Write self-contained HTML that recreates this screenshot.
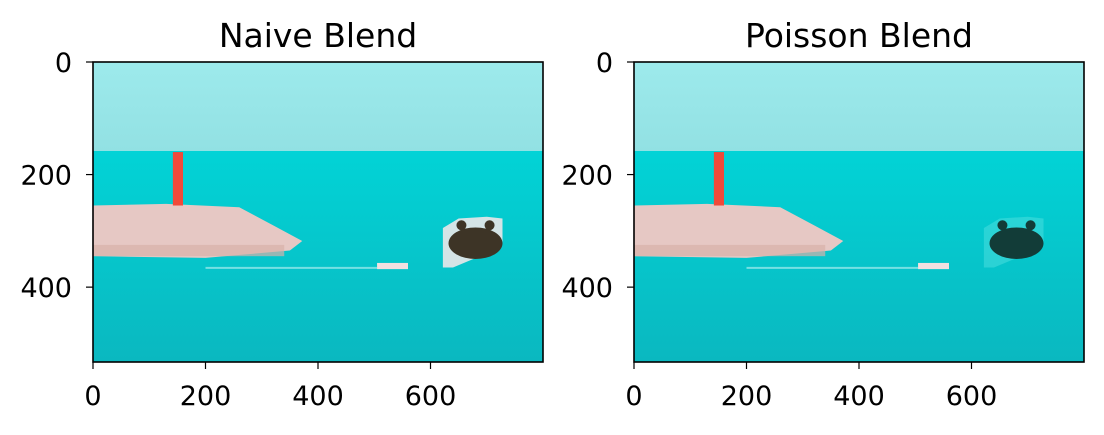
<!DOCTYPE html>
<html><head><meta charset="utf-8"><style>
body{margin:0;background:#fff;width:1104px;height:430px;overflow:hidden}
svg text{font-family:"DejaVu Sans","Liberation Sans",sans-serif;fill:#000}
</style></head><body>
<svg id="fig" width="1104" height="430"></svg>
<script>
const imgW = 800, imgH = 533;
const xTicks = [0, 200, 400, 600];
const yTicks = [0, 200, 400];
const panelTitles = ["Naive Blend", "Poisson Blend"];
const panelLefts = [93, 634];
const horizonY = [158];
const lighthouse = [142, 160, 160, 255];
const breakwater = [[0,255],[130,252],[260,258],[320,290],[372,318],[350,335],[200,348],[0,345]];
const boat = [505, 357, 560, 368];
const bearPatch = [[622,295],[650,278],[700,275],[728,278],[728,320],[700,340],[640,365],[622,365]];
const NS = "http://www.w3.org/2000/svg";
const svg = document.getElementById('fig');
function mk(tag, attrs, parent){const e=document.createElementNS(NS,tag);for(const k in attrs)e.setAttribute(k,attrs[k]);(parent||svg).appendChild(e);return e;}
const top0 = 62, W = 450, H = 300;
panelLefts.forEach((L, pi) => {
  const sx = v => L + v * W / imgW;
  const sy = v => top0 + v * H / imgH;
  const g = mk('g', {});
  
  
  const defs = mk('defs', {}, g);
  const grad = mk('linearGradient', {id:'sky'+pi, x1:0, y1:0, x2:0, y2:1}, defs);
  mk('stop', {offset:0, 'stop-color':'#9deaec'}, grad);
  mk('stop', {offset:1, 'stop-color':'#92e1e3'}, grad);
  const sg = mk('linearGradient', {id:'sea'+pi, x1:0, y1:0, x2:0, y2:1}, defs);
  mk('stop', {offset:0, 'stop-color':'#02d3d6'}, sg);
  mk('stop', {offset:1, 'stop-color':'#0ab8c0'}, sg);
  const sky = mk('rect', {x:sx(0), y:sy(0), width:sx(imgW)-sx(0), height:sy(horizonY[0])-sy(0), fill:'url(#sky'+pi+')'}, g);
  
  
  const sea = mk('rect', {x:sx(0), y:sy(horizonY[0]), width:sx(imgW)-sx(0), height:sy(imgH)-sy(horizonY[0]), fill:'url(#sea'+pi+')'}, g);
  
  
  const bw = mk('polygon', {points: breakwater.map(p => sx(p[0])+','+sy(p[1])).join(' '), fill:'#e6c8c4'}, g);
  
  
  const bws = mk('rect', {x:sx(0), y:sy(325), width:sx(340)-sx(0), height:sy(345)-sy(325), fill:'#d7b0aa', opacity:0.7}, g);
  
  
  const lh = mk('rect', {x:sx(lighthouse[0]), y:sy(lighthouse[2]), width:sx(lighthouse[1])-sx(lighthouse[0]), height:sy(lighthouse[3])-sy(lighthouse[2]), fill:'#f04a3a'}, g);
  
  
  const wake = mk('rect', {x:sx(200), y:sy(boat[3]-4), width:sx(boat[0])-sx(200), height:2, fill:'#bff3f3', opacity:0.6}, g);
  
  
  const bt = mk('rect', {x:sx(boat[0]), y:sy(boat[1]), width:sx(boat[2])-sx(boat[0]), height:sy(boat[3])-sy(boat[1]), fill:'#f3e0e0'}, g);
  
  
  const pts = bearPatch.map(p => sx(p[0])+','+sy(p[1])).join(' ');
  const bp = mk('polygon', {points:pts, fill: pi===0 ? '#d4e4e6' : '#4fe0e0', opacity: pi===0 ? 1 : 0.5}, g);
  
  
  const bear = mk('ellipse', {cx:sx(680), cy:sy(322), rx:(sx(728)-sx(632))/2, ry:(sy(348)-sy(292))/2, fill: pi===0 ? '#3d3426' : '#123c38'}, g);
  
  
  [[655,290],[705,290]].forEach(e => {
    const ear = mk('circle', {cx:sx(e[0]), cy:sy(e[1]), r:5, fill: pi===0 ? '#3d3426' : '#123c38'}, g);
    
    
  });
  const frame = mk('rect', {x:sx(0), y:sy(0), width:W, height:H, fill:'none', stroke:'#000', 'stroke-width':1.6}, g);
  
  
  xTicks.forEach(t => {
    const ln = mk('line', {x1:sx(t), x2:sx(t), y1:sy(imgH), y2:sy(imgH)+7, stroke:'#000', 'stroke-width':1.2}, g);
    
    
    const tx = mk('text', {x:sx(t), y:405, 'font-size':'27px', 'text-anchor':'middle'}, g);
    tx.textContent = t;
    
    
  });
  yTicks.forEach(t => {
    const ln = mk('line', {x1:L-7, x2:L, y1:sy(t), y2:sy(t), stroke:'#000', 'stroke-width':1.2}, g);
    
    
    const tx = mk('text', {x:L-21, y:sy(t)+10, 'font-size':'27px', 'text-anchor':'end'}, g);
    tx.textContent = t;
    
    
  });
  const ti = mk('text', {x:L+W/2, y:47, 'font-size':'33px', 'text-anchor':'middle'}, g);
  ti.textContent = panelTitles[pi];
  
  
});
</script>
</body></html>
